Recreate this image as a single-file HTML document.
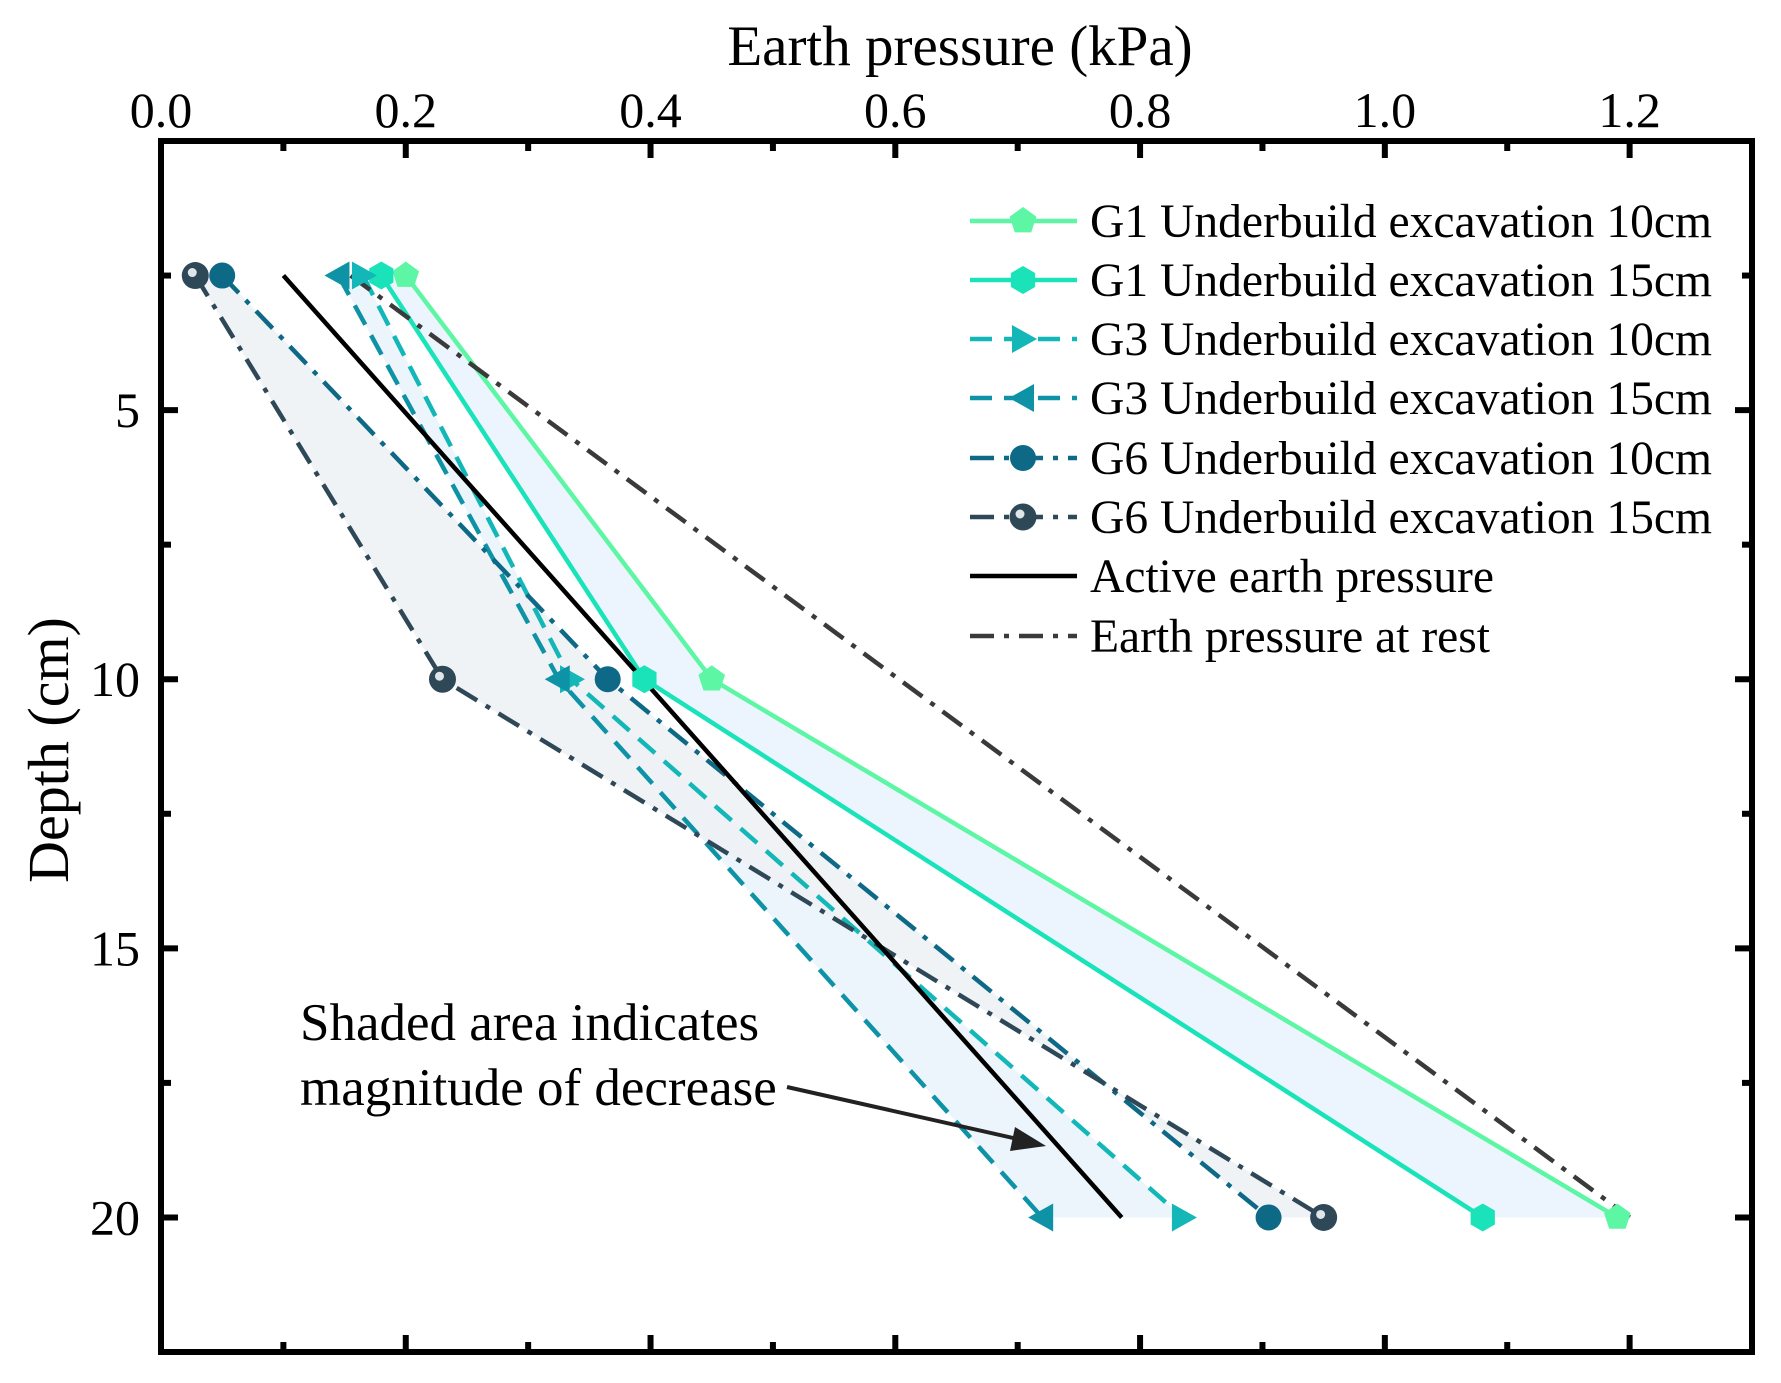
<!DOCTYPE html>
<html><head><meta charset="utf-8"><style>
html,body{margin:0;padding:0;background:#fff;}
svg{display:block;font-family:"Liberation Serif",serif;}
</style></head><body>
<svg id="chart" width="1781" height="1383" viewBox="0 0 1781 1383" xmlns="http://www.w3.org/2000/svg">
<g id="fills"></g><g id="lines"></g><g id="markers"></g><g id="axes"></g><g id="legend"></g>
</svg>
<script>
const depths = [2.5, 10, 20];
const g1_10 = [0.2, 0.45, 1.19];
const g1_15 = [0.18, 0.395, 1.08];
const g3_10 = [0.165, 0.335, 0.835];
const g3_15 = [0.145, 0.325, 0.72];
const g6_10 = [0.05, 0.365, 0.905];
const g6_15 = [0.028, 0.23, 0.95];
const activeX = [0.1, 0.785];
const activeY = [2.5, 20];
const restX = [0.155, 1.2];
const restY = [2.5, 20];
const xTicks = [0.0, 0.2, 0.4, 0.6, 0.8, 1.0, 1.2];
const xTickLabels = ["0.0","0.2","0.4","0.6","0.8","1.0","1.2"];
const yTicks = [5, 10, 15, 20];
const yTickLabels = ["5","10","15","20"];

const L=161,R=1752,T=141,B=1352;
const X=v=>L+v/1.3*(R-L);
const Y=v=>T+v/22.5*(B-T);
const NS="http://www.w3.org/2000/svg";
function mk(tag,attrs,parent){const e=document.createElementNS(NS,tag);for(const k in attrs)e.setAttribute(k,attrs[k]);document.getElementById(parent).appendChild(e);return e;}

const series=[
 {name:"G1 Underbuild excavation 10cm",data:g1_10,color:"#5df6a4",dash:"",marker:"pent",key:"g1-10cm"},
 {name:"G1 Underbuild excavation 15cm",data:g1_15,color:"#1be3b9",dash:"",marker:"hex",key:"g1-15cm"},
 {name:"G3 Underbuild excavation 10cm",data:g3_10,color:"#13b7b7",dash:"22 12",marker:"right",key:"g3-10cm"},
 {name:"G3 Underbuild excavation 15cm",data:g3_15,color:"#0e93a6",dash:"22 12",marker:"left",key:"g3-15cm"},
 {name:"G6 Underbuild excavation 10cm",data:g6_10,color:"#0d6985",dash:"24 10 5 10",marker:"circle",key:"g6-10cm"},
 {name:"G6 Underbuild excavation 15cm",data:g6_15,color:"#2f4858",dash:"24 10 5 10",marker:"ball",key:"g6-15cm"}
];
const pairs=[[g1_10,g1_15,"#eaf4fd"],[g3_10,g3_15,"#eaf4fb"],[g6_10,g6_15,"#eef2f5"]];
pairs.forEach((p,i)=>{
 const a=p[0].map((v,j)=>X(v)+","+Y(depths[j]));
 const b=p[1].map((v,j)=>X(v)+","+Y(depths[j])).reverse();
 const e=mk("polygon",{points:a.concat(b).join(" "),fill:p[2],opacity:0.9},"fills");
 
 
});
function marker(type,cx,cy,color,parent){
 let e;const r=14;
 if(type==="pent"||type==="hex"){const n=type==="pent"?5:6;const pts=[];for(let k=0;k<n;k++){const a=-Math.PI/2+k*2*Math.PI/n;pts.push((cx+r*Math.cos(a))+","+(cy+r*Math.sin(a)));}e=mk("polygon",{points:pts.join(" "),fill:color},parent);}
 else if(type==="right"){e=mk("polygon",{points:`${cx-11},${cy-14} ${cx+14},${cy} ${cx-11},${cy+14}`,fill:color},parent);}
 else if(type==="left"){e=mk("polygon",{points:`${cx+11},${cy-14} ${cx-14},${cy} ${cx+11},${cy+14}`,fill:color},parent);}
 else if(type==="circle"){e=mk("circle",{cx,cy,r:13,fill:color},parent);}
 else {e=mk("circle",{cx,cy,r:13.5,fill:color},parent);const h=mk("circle",{cx:cx-3,cy:cy-3,r:4.5,fill:"#dfe6ea"},parent);}
 return e;
}
series.forEach(s=>{
 const pts=s.data.map((v,j)=>X(v)+","+Y(depths[j])).join(" ");
 const l=mk("polyline",{points:pts,fill:"none",stroke:s.color,"stroke-width":4.5,"stroke-dasharray":s.dash},"lines");
 
 
 s.data.forEach((v,j)=>{const m=marker(s.marker,X(v),Y(depths[j]),s.color,"markers");
  
  });
});
const act=mk("line",{x1:X(activeX[0]),y1:Y(activeY[0]),x2:X(activeX[1]),y2:Y(activeY[1]),stroke:"#000","stroke-width":4.5},"lines");


const rest=mk("line",{x1:X(restX[0]),y1:Y(restY[0]),x2:X(restX[1]),y2:Y(restY[1]),stroke:"#3a3a3a","stroke-width":4.5,"stroke-dasharray":"24 10 5 10"},"lines");



const fr=mk("rect",{x:L,y:T,width:R-L,height:B-T,fill:"none",stroke:"#000","stroke-width":6},"axes");


for(let v=0;v<=1.3001;v+=0.1){const major=Math.abs(v*5-Math.round(v*5))<1e-6;const len=major?17:10;
 const t1=mk("line",{x1:X(v),y1:T,x2:X(v),y2:T+len,stroke:"#000","stroke-width":6},"axes");
 
 const t2=mk("line",{x1:X(v),y1:B,x2:X(v),y2:B-len,stroke:"#000","stroke-width":6},"axes");
 }
for(let v=2.5;v<=22.5;v+=2.5){const major=v%5===0;const len=major?17:10;
 const t1=mk("line",{x1:L,y1:Y(v),x2:L+len,y2:Y(v),stroke:"#000","stroke-width":6},"axes");
 
 const t2=mk("line",{x1:R,y1:Y(v),x2:R-len,y2:Y(v),stroke:"#000","stroke-width":6},"axes");
 }
xTicks.forEach((v,i)=>{const t=mk("text",{x:X(v),y:127,"font-size":50,"text-anchor":"middle"},"axes");t.textContent=xTickLabels[i];
 });
yTicks.forEach((v,i)=>{const t=mk("text",{x:140,y:Y(v)+17,"font-size":50,"text-anchor":"end"},"axes");t.textContent=yTickLabels[i];
 });
const xt=mk("text",{x:960,y:65,"font-size":57,"text-anchor":"middle"},"axes");xt.textContent="Earth pressure (kPa)";

const yt=mk("text",{x:0,y:0,"font-size":58,"text-anchor":"middle",transform:"translate(68,750) rotate(-90)"},"axes");yt.textContent="Depth (cm)";


const a1=mk("text",{x:300,y:1040,"font-size":53},"axes");a1.textContent="Shaded area indicates";

const a2=mk("text",{x:300,y:1105,"font-size":53},"axes");a2.textContent="magnitude of decrease";

const ar=mk("line",{x1:787,y1:1087,x2:1022,y2:1140,stroke:"#222","stroke-width":4},"axes");

const ah=mk("polygon",{points:"1046,1146 1010,1151 1015,1127",fill:"#222"},"axes");


const legY=[221,280,339,398,458,517,576,636];
const legItems=series.map(s=>({name:s.name,color:s.color,dash:s.dash,marker:s.marker,key:s.key}))
 .concat([{name:"Active earth pressure",color:"#000",dash:"",marker:null,key:"active"},{name:"Earth pressure at rest",color:"#3a3a3a",dash:"24 10 5 10",marker:null,key:"rest"}]);
const legLen=[622,622,622,622,622,622,404,400];
legItems.forEach((it,i)=>{const y=legY[i];
 const g=mk("g",{},"legend");
 const id='lg'+i;g.id=id;
 const l=mk("line",{x1:970,y1:y,x2:1077,y2:y,stroke:it.color,"stroke-width":4.5,"stroke-dasharray":it.dash},id);
 
 if(it.marker){const m=marker(it.marker,1023,y,it.color,id);}
 const t=mk("text",{x:1090,y:y+16,"font-size":48,textLength:legLen[i],lengthAdjust:"spacingAndGlyphs"},id);t.textContent=it.name;
 
});
</script>
</body></html>
